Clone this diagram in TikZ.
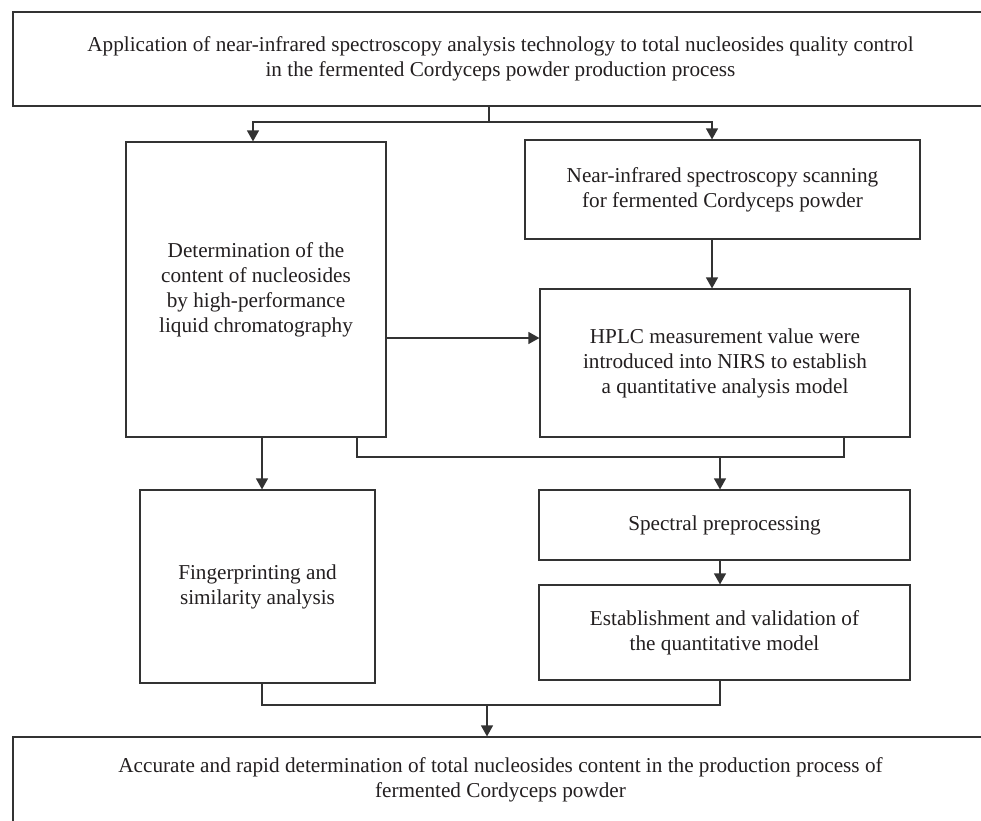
\documentclass[tikz,border=0pt]{standalone}
\usepackage{fontspec}
\setmainfont{Liberation Serif}
\usetikzlibrary{arrows.meta}
\definecolor{ln}{HTML}{333333}
\definecolor{tx}{HTML}{231F20}
\begin{document}
\begin{tikzpicture}[x=1pt,y=-1pt,
  box/.style={draw=ln,line width=1.2pt,rectangle,inner sep=0pt,align=center,text=tx,
    font=\fontsize{21.2}{25}\selectfont},
  conn/.style={draw=ln,line width=1.2pt},
  arr/.style={conn,-{Triangle[length=11pt,width=12pt]}}]
\useasboundingbox (0,0) rectangle (981,820);
\fill[white] (0,0) rectangle (981,820);
\node[box,minimum width=975pt,minimum height=94pt] (top) at (500.5,59)
  {Application of near-infrared spectroscopy analysis technology to total nucleosides quality control\\in the fermented Cordyceps powder production process};
\node[box,minimum width=260pt,minimum height=295pt] (left) at (256,289.5)
  {Determination of the\\content of nucleosides\\by high-performance\\liquid chromatography};
\node[box,minimum width=395pt,minimum height=99pt] (nir) at (722.5,189.5)
  {Near-infrared spectroscopy scanning\\for fermented Cordyceps powder};
\node[box,minimum width=370pt,minimum height=148pt] (hplc) at (725,363)
  {HPLC measurement value were\\introduced into NIRS to establish\\a quantitative analysis model};
\node[box,minimum width=235pt,minimum height=193pt] (fp) at (257.5,586.5)
  {Fingerprinting and\\similarity analysis};
\node[box,minimum width=371pt,minimum height=70pt] (spec) at (724.5,525)
  {Spectral preprocessing};
\node[box,minimum width=371pt,minimum height=95pt] (est) at (724.5,632.5)
  {Establishment and validation of\\the quantitative model};
\node[box,minimum width=975pt,minimum height=86pt] (bot) at (500.5,780)
  {Accurate and rapid determination of total nucleosides content in the production process of\\fermented Cordyceps powder};
% split from top
\coordinate (s) at (489,122);
\coordinate (sl) at (253,122);
\coordinate (sr) at (712,122);
\draw[conn] (top.south -| s) -- (s);
\draw[arr] (s) -- (sl) -- (sl |- left.north);
\draw[arr] (s) -- (sr) -- (sr |- nir.north);
\draw[arr] (sr |- nir.south) -- (sr |- hplc.north);
% left to hplc
\coordinate (h) at (0,338);
\draw[arr] (left.east |- h) -- (hplc.west |- h);
% left to fingerprint
\coordinate (fx) at (262,0);
\draw[arr] (fx |- left.south) -- (fx |- fp.north);
% merge to spectral
\coordinate (m1) at (357,457);
\coordinate (m2) at (844,457);
\coordinate (m3) at (720,457);
\draw[conn] (m1 |- left.south) -- (m1) -- (m2) -- (m2 |- hplc.south);
\draw[arr] (m3) -- (m3 |- spec.north);
\draw[arr] (m3 |- spec.south) -- (m3 |- est.north);
% final merge
\coordinate (b1) at (262,705);
\coordinate (b2) at (720,705);
\coordinate (b3) at (487,705);
\draw[conn] (b1 |- fp.south) -- (b1) -- (b2) -- (b2 |- est.south);
\draw[arr] (b3) -- (b3 |- bot.north);
\end{tikzpicture}
\end{document}
